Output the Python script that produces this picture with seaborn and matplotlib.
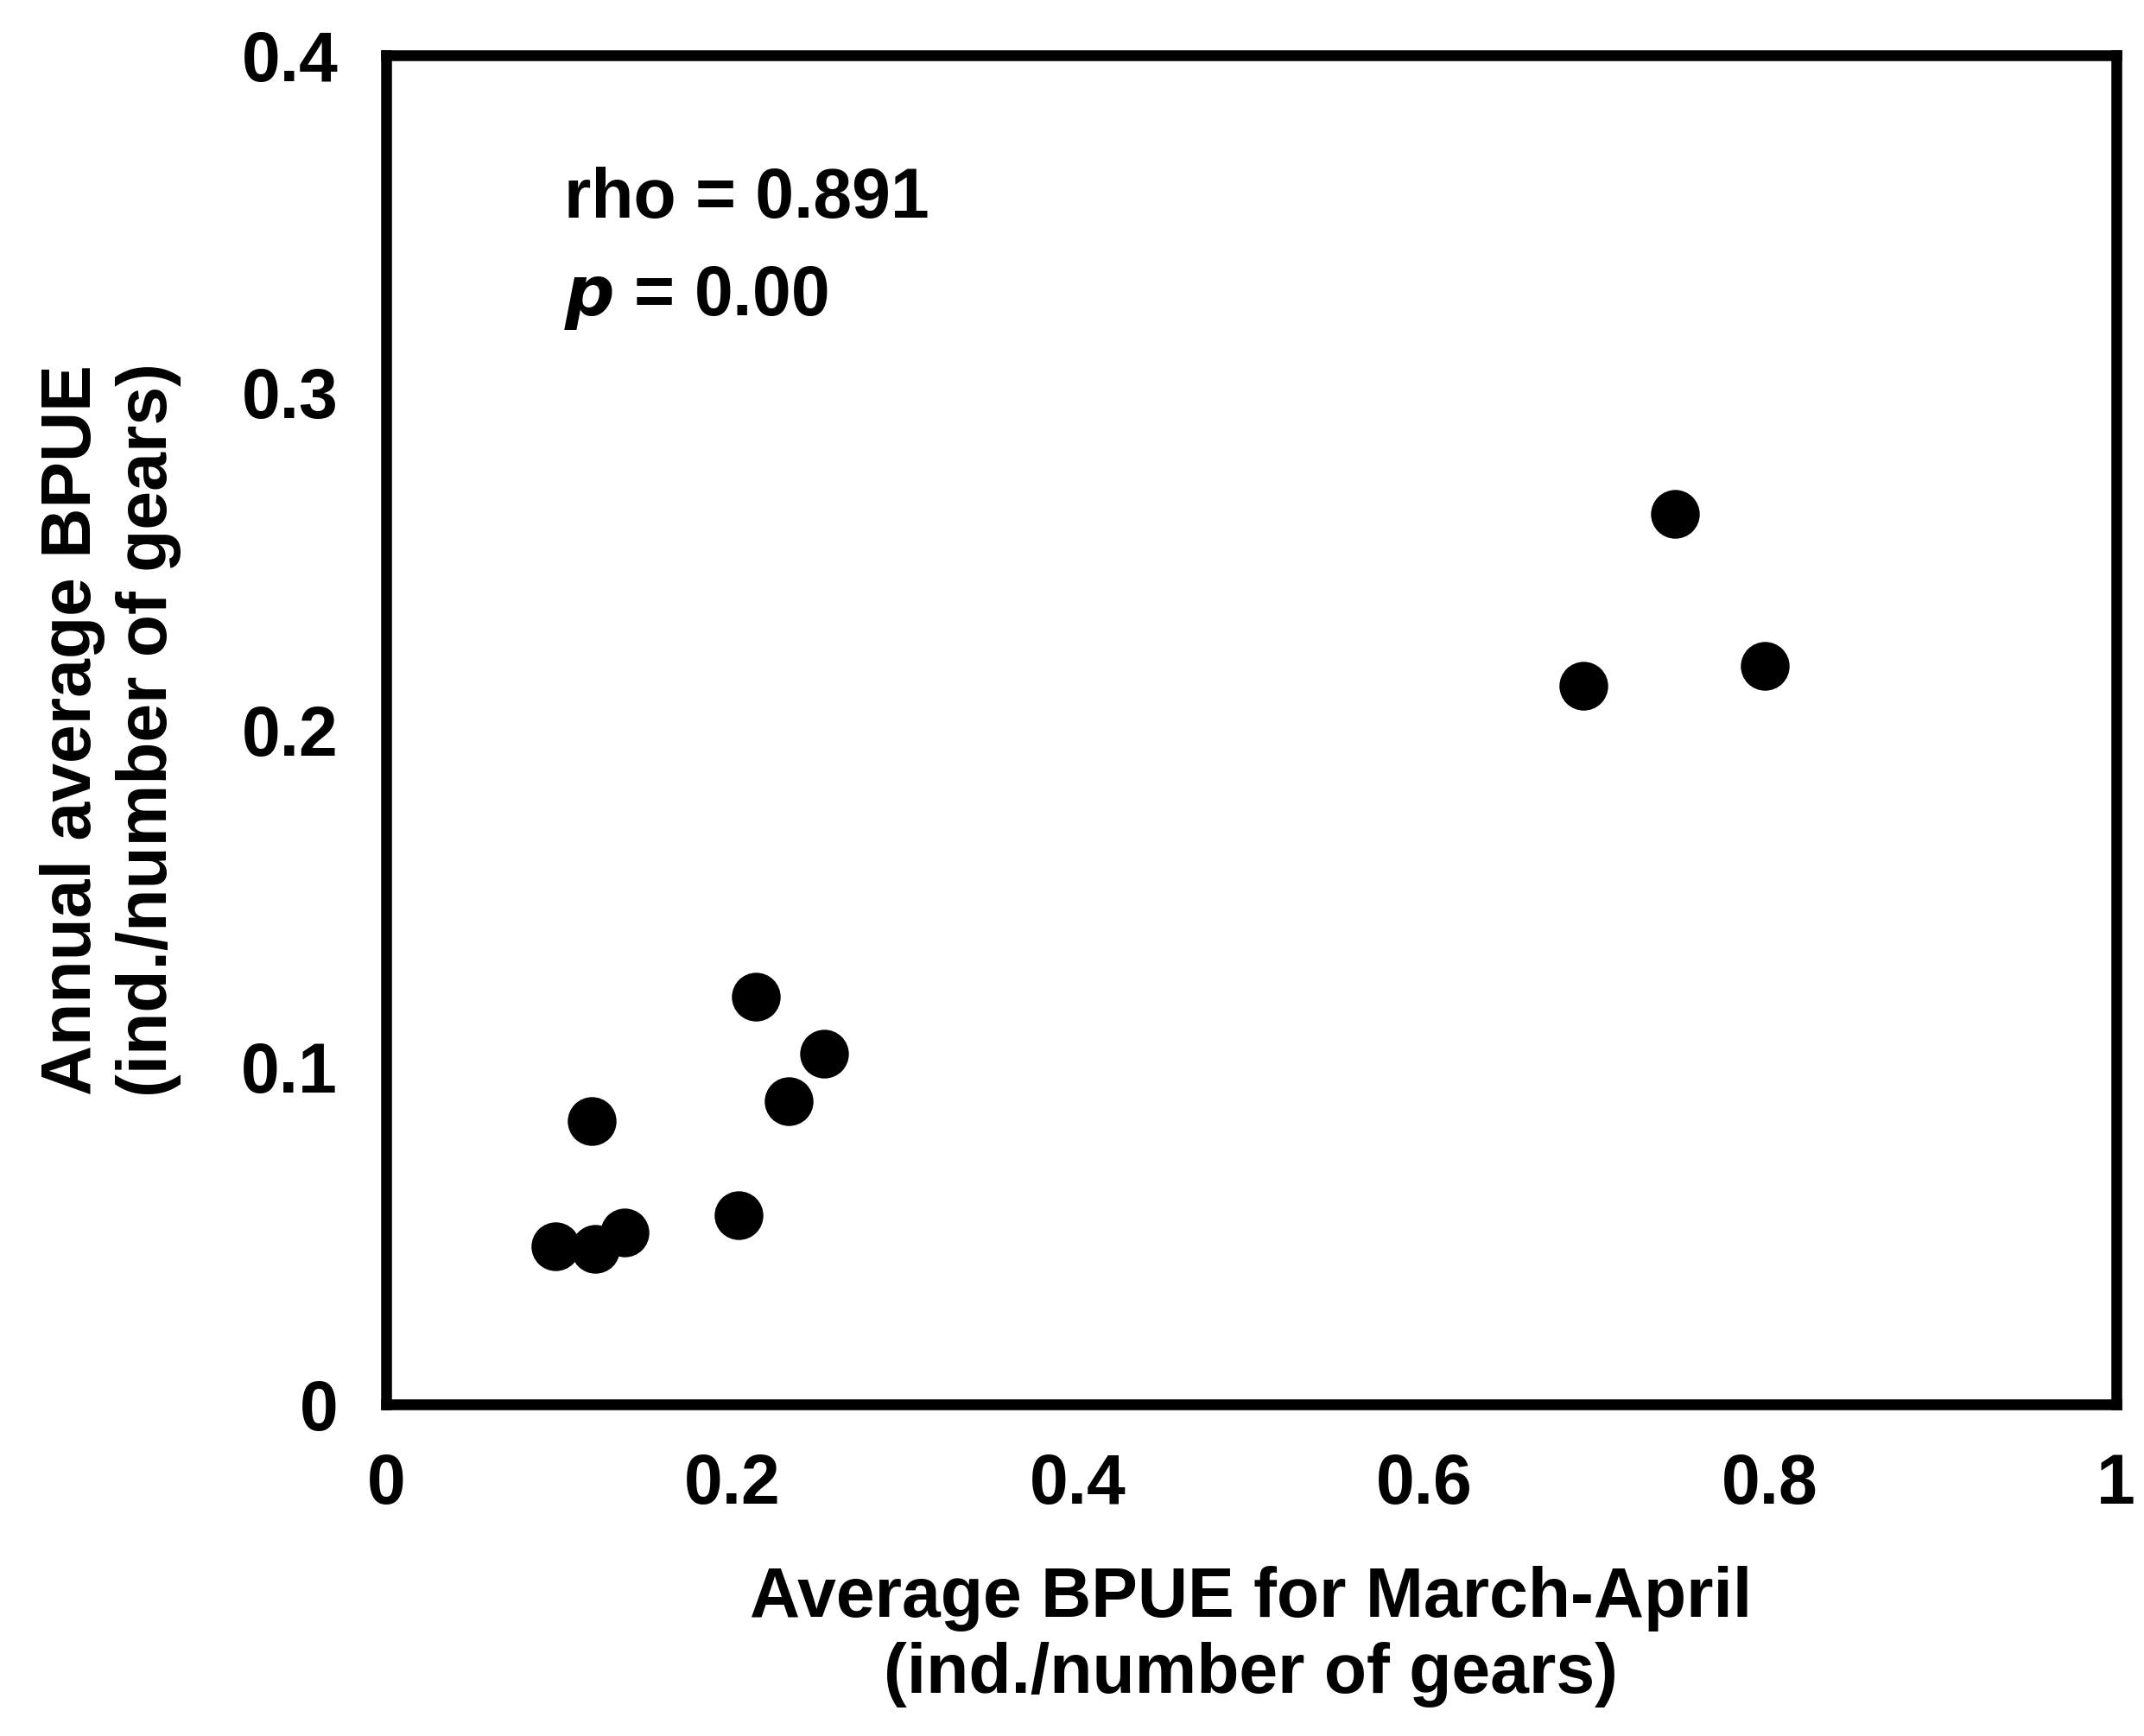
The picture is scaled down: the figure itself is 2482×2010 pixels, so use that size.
import matplotlib
matplotlib.use("Agg")
import matplotlib.pyplot as plt
import seaborn as sns
import pandas as pd

# Values
march_april = [0.098, 0.121, 0.138, 0.119, 0.204, 0.214, 0.233, 0.253, 0.692, 0.745, 0.797]
annual = [0.047, 0.046, 0.051, 0.084, 0.056, 0.121, 0.090, 0.104, 0.213, 0.264, 0.219]
x_ticks = [0, 0.2, 0.4, 0.6, 0.8, 1]
x_tick_labels = ['0', '0.2', '0.4', '0.6', '0.8', '1']
y_ticks = [0, 0.1, 0.2, 0.3, 0.4]
y_tick_labels = ['0', '0.1', '0.2', '0.3', '0.4']

df = pd.DataFrame({'x': march_april, 'y': annual})

sns.set_style('white')
plt.rcParams['font.family'] = ['Liberation Sans', 'DejaVu Sans']
plt.rcParams['font.weight'] = 'bold'
plt.rcParams['text.color'] = 'black'
plt.rcParams['axes.labelcolor'] = 'black'
plt.rcParams['xtick.color'] = 'black'
plt.rcParams['ytick.color'] = 'black'

fig = plt.figure(figsize=(24.82, 20.10), dpi=100)
ax = fig.add_axes([0.180, 0.191, 0.807, 0.777])
sns.scatterplot(data=df, x='x', y='y', ax=ax, color='black', s=1650, edgecolor='black', linewidth=0)

ax.set_xlim(0, 1)
ax.set_ylim(0, 0.4)
ax.set_xticks(x_ticks)
ax.set_xticklabels(x_tick_labels)
ax.set_yticks(y_ticks)
ax.set_yticklabels(y_tick_labels)
ax.tick_params(direction='in', length=14, width=8, labelsize=58, pad=40, color='black', labelcolor='black')
for sp in ax.spines.values():
    sp.set_linewidth(9)
    sp.set_color('black')

ax.set_xlabel('Average BPUE for March-April\n(ind./number of gears)', fontsize=58, fontweight='bold',
              labelpad=40, color='black')
ax.set_ylabel('Annual average BPUE\n(ind./number of gears)', fontsize=58, fontweight='bold',
              labelpad=50, color='black')

ax.text(0.103, 0.352, 'rho = 0.891', fontsize=58, fontweight='bold', color='black')
ax.text(0.103, 0.323, r'$\mathbfit{p}$ = 0.00', fontsize=58, fontweight='bold', color='black')

fig.savefig('out.png', dpi=100)
